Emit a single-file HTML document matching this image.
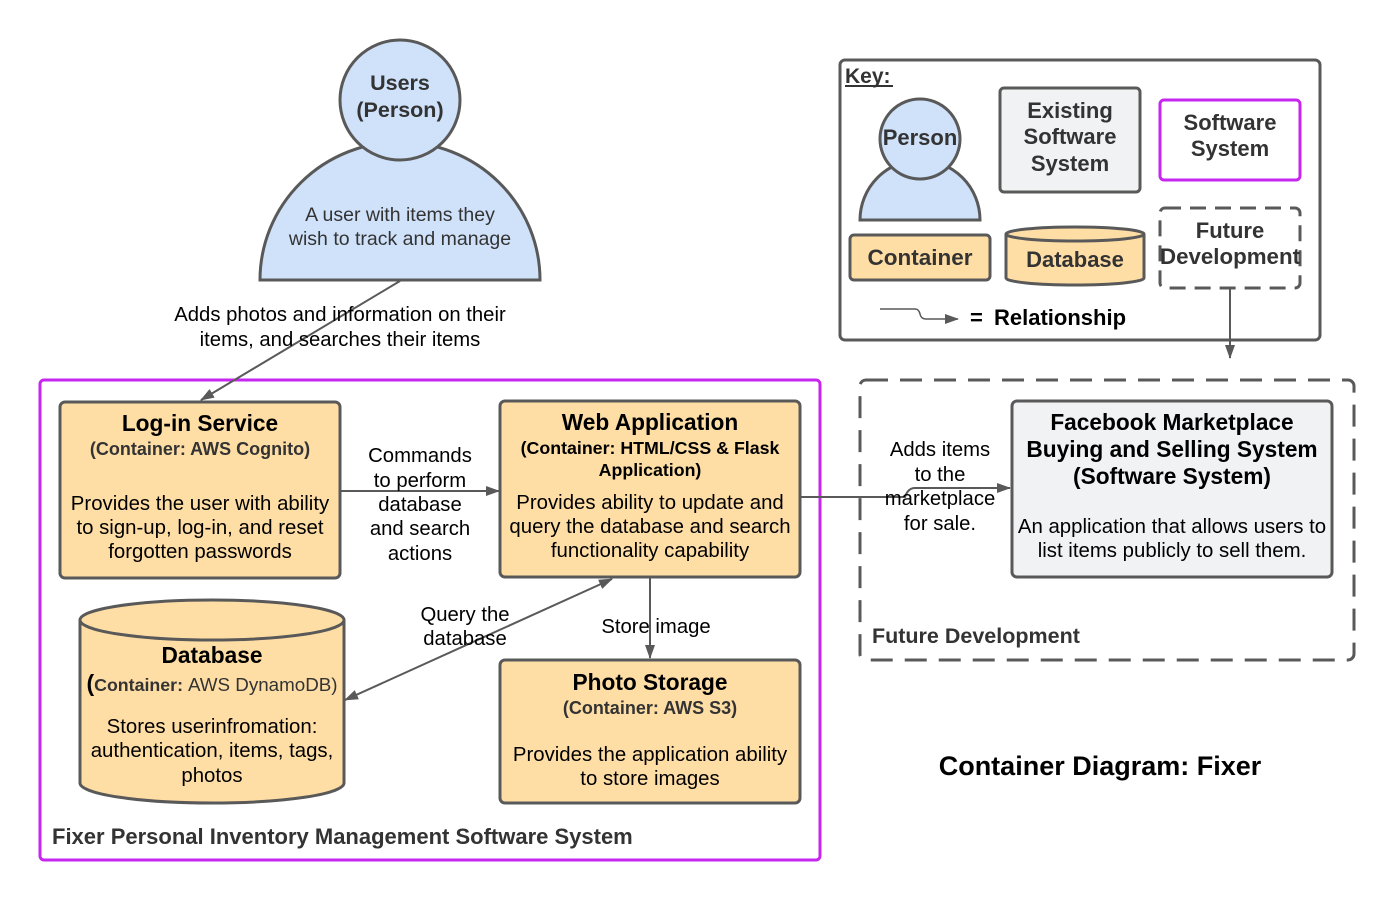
<!DOCTYPE html>
<html><head><meta charset="utf-8"><style>
html,body{margin:0;padding:0;background:#fff}
svg{display:block;font-family:"Liberation Sans",Arial,sans-serif}
</style></head><body>
<svg width="1394" height="900" viewBox="0 0 1394 900" xmlns="http://www.w3.org/2000/svg">
<defs>
<marker id="a" markerWidth="14" markerHeight="10" refX="13" refY="5" orient="auto" markerUnits="userSpaceOnUse">
<path d="M0,0 L14,5 L0,10 z" fill="#595959"/></marker>
<marker id="b" markerWidth="14" markerHeight="10" refX="13" refY="5" orient="auto-start-reverse" markerUnits="userSpaceOnUse">
<path d="M0,0 L14,5 L0,10 z" fill="#595959"/></marker>
</defs>
<rect width="1394" height="900" fill="#fff"/>

<!-- Person -->
<path d="M260,280 A140,138 0 0 1 540,280 Z" fill="#cfe2fa" stroke="#595959" stroke-width="3"/>
<circle cx="400" cy="100" r="60" fill="#cfe2fa" stroke="#595959" stroke-width="3"/>
<g fill="#333" text-anchor="middle">
<text x="400" y="90" font-size="21.5" font-weight="bold">Users</text>
<text x="400" y="117" font-size="21.5" font-weight="bold">(Person)</text>
<text x="400" y="221" font-size="19.5">A user with items they</text>
<text x="400" y="245" font-size="19.5">wish to track and manage</text>
</g>

<!-- purple system -->
<rect x="40" y="380" width="780" height="480" rx="4" fill="none" stroke="#c626ee" stroke-width="3"/>
<text x="52" y="844" font-size="22" font-weight="bold" fill="#333">Fixer Personal Inventory Management Software System</text>

<!-- connector user->login -->
<line x1="400" y1="281" x2="201" y2="400" stroke="#595959" stroke-width="2" marker-end="url(#a)"/>
<g font-size="20.3" text-anchor="middle" fill="#000">
<text x="340" y="321">Adds photos and information on their</text>
<text x="340" y="346">items, and searches their items</text>
</g>

<!-- Login -->
<rect x="60" y="402" width="280" height="176" rx="5" fill="#ffdea6" stroke="#595959" stroke-width="3"/>
<g text-anchor="middle">
<text x="200" y="431" font-size="22.7" font-weight="bold" fill="#000">Log-in Service</text>
<text x="200" y="455" font-size="18" font-weight="bold" fill="#333">(Container: AWS Cognito)</text>
<text x="200" y="510" font-size="20.4" fill="#000">Provides the user with ability</text>
<text x="200" y="534" font-size="20.4" fill="#000">to sign-up, log-in, and reset</text>
<text x="200" y="558" font-size="20.4" fill="#000">forgotten passwords</text>
</g>

<!-- login -> web -->
<line x1="341" y1="491" x2="499" y2="491" stroke="#595959" stroke-width="2" marker-end="url(#a)"/>
<g font-size="20.3" text-anchor="middle" fill="#000">
<text x="420" y="462">Commands</text>
<text x="420" y="487">to perform</text>
<text x="420" y="511">database</text>
<text x="420" y="535">and search</text>
<text x="420" y="560">actions</text>
</g>

<!-- Web -->
<rect x="500" y="401" width="300" height="176" rx="5" fill="#ffdea6" stroke="#595959" stroke-width="3"/>
<g text-anchor="middle">
<text x="650" y="430" font-size="22.7" font-weight="bold" fill="#000">Web Application</text>
<text x="650" y="454" font-size="17.8" font-weight="bold" fill="#000">(Container: HTML/CSS &amp; Flask</text>
<text x="650" y="476" font-size="17.8" font-weight="bold" fill="#000">Application)</text>
<text x="650" y="509" font-size="20.4" fill="#000">Provides ability to update and</text>
<text x="650" y="533" font-size="20.4" fill="#000">query the database and search</text>
<text x="650" y="557" font-size="20.4" fill="#000">functionality capability</text>
</g>

<!-- Database cylinder -->
<path d="M80,620 L80,783 A132,20 0 0 0 344,783 L344,620" fill="#ffdea6" stroke="#595959" stroke-width="3"/>
<ellipse cx="212" cy="620" rx="132" ry="20" fill="#ffdea6" stroke="#595959" stroke-width="3"/>
<g text-anchor="middle">
<text x="212" y="663" font-size="22.7" font-weight="bold" fill="#000">Database</text>
<text x="212" y="691" font-size="17.8" font-weight="bold" fill="#333"><tspan font-size="23" fill="#000">(</tspan>Container: <tspan font-weight="normal" font-size="18.8">AWS DynamoDB)</tspan></text>
<text x="212" y="733" font-size="20.4" fill="#000">Stores userinfromation:</text>
<text x="212" y="757" font-size="20.4" fill="#000">authentication, items, tags,</text>
<text x="212" y="782" font-size="20.4" fill="#000">photos</text>
</g>

<!-- web <-> db -->
<line x1="345" y1="700" x2="612" y2="579" stroke="#595959" stroke-width="2" marker-end="url(#a)" marker-start="url(#b)"/>
<g font-size="20.3" text-anchor="middle" fill="#000">
<text x="465" y="621">Query the</text>
<text x="465" y="645">database</text>
</g>

<!-- web -> photo -->
<line x1="650" y1="578" x2="650" y2="658" stroke="#595959" stroke-width="2" marker-end="url(#a)"/>
<text x="656" y="633" font-size="20.3" text-anchor="middle" fill="#000">Store image</text>

<!-- Photo -->
<rect x="500" y="660" width="300" height="143" rx="5" fill="#ffdea6" stroke="#595959" stroke-width="3"/>
<g text-anchor="middle">
<text x="650" y="690" font-size="22.7" font-weight="bold" fill="#000">Photo Storage</text>
<text x="650" y="714" font-size="18" font-weight="bold" fill="#333">(Container: AWS S3)</text>
<text x="650" y="761" font-size="20.4" fill="#000">Provides the application ability</text>
<text x="650" y="785" font-size="20.4" fill="#000">to store images</text>
</g>

<!-- Future dev -->
<rect x="860" y="380" width="494" height="280" rx="6" fill="none" stroke="#595959" stroke-width="3" stroke-dasharray="22,12"/>
<text x="872" y="643" font-size="21.5" font-weight="bold" fill="#333">Future Development</text>

<!-- web -> facebook -->
<path d="M801,497 L905,497 Q908,488 915,488 L1010,488" fill="none" stroke="#595959" stroke-width="2" marker-end="url(#a)"/>
<g font-size="20.3" text-anchor="middle" fill="#000">
<text x="940" y="456">Adds items</text>
<text x="940" y="481">to the</text>
<text x="940" y="505">marketplace</text>
<text x="940" y="530">for sale.</text>
</g>

<!-- Facebook -->
<rect x="1012" y="401" width="320" height="176" rx="5" fill="#f1f2f4" stroke="#595959" stroke-width="3"/>
<g text-anchor="middle" fill="#000">
<text x="1172" y="430" font-size="22.7" font-weight="bold">Facebook Marketplace</text>
<text x="1172" y="457" font-size="22.7" font-weight="bold">Buying and Selling System</text>
<text x="1172" y="484" font-size="22.7" font-weight="bold">(Software System)</text>
<text x="1172" y="533" font-size="20.4">An application that allows users to</text>
<text x="1172" y="557" font-size="20.4">list items publicly to sell them.</text>
</g>

<!-- Key -->
<rect x="840" y="60" width="480" height="280" rx="5" fill="#fff" stroke="#595959" stroke-width="3"/>
<text x="845" y="83" font-size="21" font-weight="bold" fill="#333">Key:</text>
<line x1="845" y1="86" x2="893" y2="86" stroke="#333" stroke-width="2"/>
<path d="M860,220 A60,60 0 0 1 980,220 Z" fill="#cfe2fa" stroke="#595959" stroke-width="3"/>
<circle cx="920" cy="139" r="40" fill="#cfe2fa" stroke="#595959" stroke-width="3"/>
<text x="920" y="145" font-size="22" font-weight="bold" fill="#333" text-anchor="middle">Person</text>
<rect x="1000" y="88" width="140" height="104" rx="4" fill="#f1f2f4" stroke="#595959" stroke-width="3"/>
<g font-size="22" font-weight="bold" fill="#333" text-anchor="middle">
<text x="1070" y="118">Existing</text>
<text x="1070" y="144">Software</text>
<text x="1070" y="171">System</text>
</g>
<rect x="1160" y="100" width="140" height="80" rx="4" fill="#fff" stroke="#c626ee" stroke-width="3"/>
<g font-size="22" font-weight="bold" fill="#333" text-anchor="middle">
<text x="1230" y="130">Software</text>
<text x="1230" y="156">System</text>
</g>
<rect x="850" y="235" width="140" height="45" rx="4" fill="#ffdea6" stroke="#595959" stroke-width="3"/>
<text x="920" y="265" font-size="22.5" font-weight="bold" fill="#333" text-anchor="middle">Container</text>
<path d="M1006,234 L1006,278 A69,7 0 0 0 1144,278 L1144,234" fill="#ffdea6" stroke="#595959" stroke-width="3"/>
<ellipse cx="1075" cy="234" rx="69" ry="7" fill="#ffdea6" stroke="#595959" stroke-width="3"/>
<text x="1075" y="267" font-size="22" font-weight="bold" fill="#333" text-anchor="middle">Database</text>
<rect x="1160" y="208" width="140" height="80" rx="5" fill="#fff" stroke="#595959" stroke-width="3" stroke-dasharray="16,9"/>
<g font-size="22" font-weight="bold" fill="#333" text-anchor="middle">
<text x="1230" y="238">Future</text>
<text x="1230" y="264" textLength="140" lengthAdjust="spacingAndGlyphs">Development</text>
</g>
<path d="M880,309 L915,309 Q919,309 920,314 Q921,319 926,319 L958,319" fill="none" stroke="#595959" stroke-width="1.5" marker-end="url(#a)"/>
<text x="970" y="325" font-size="22" font-weight="bold" fill="#000">=</text>
<text x="994" y="325" font-size="22" font-weight="bold" fill="#000">Relationship</text>
<line x1="1230" y1="289" x2="1230" y2="358" stroke="#595959" stroke-width="2" marker-end="url(#a)"/>

<text x="1100" y="775" font-size="27" font-weight="bold" fill="#000" text-anchor="middle">Container Diagram: Fixer</text>
</svg>
</body></html>
